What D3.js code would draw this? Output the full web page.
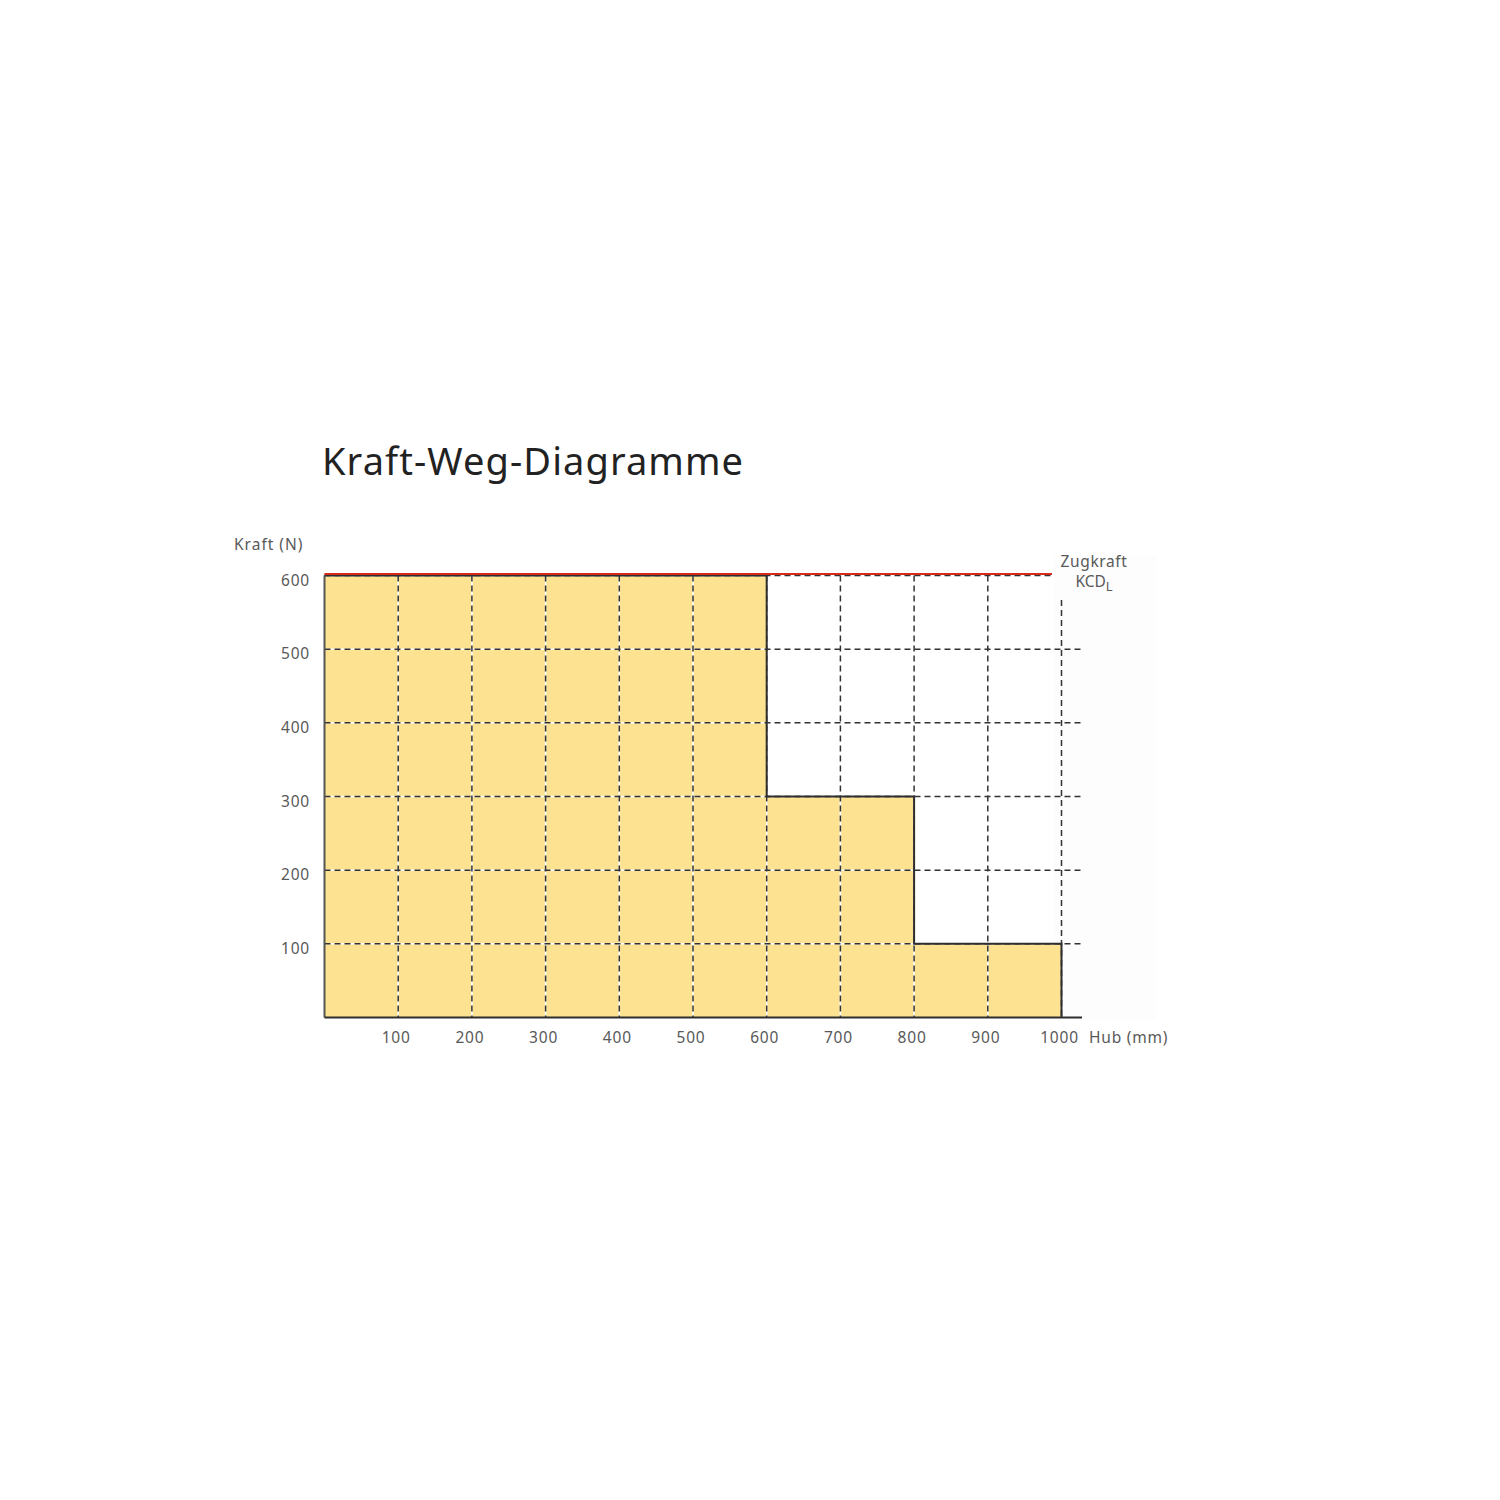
<!DOCTYPE html>
<html>
<head>
<meta charset="utf-8">
<script src="https://cdn.jsdelivr.net/npm/d3@7"></script>
<style>
    body { margin: 0; background: #fff; }
    text { font-family: "Noto Sans", "DejaVu Sans", sans-serif; }
</style>
</head>
<body>
<svg id="chart" width="1500" height="1500"></svg>
<script>
// Hub (mm) at which each force step starts / ends, and the force (N)
var stepStart = [0, 600, 800];
var stepEnd = [600, 800, 1000];
var stepForce = [600, 300, 100];

var xTicks = [100, 200, 300, 400, 500, 600, 700, 800, 900, 1000];
var yTicks = [100, 200, 300, 400, 500, 600];
var maxForce = 600; // Zugkraft KCD_L

var svg = d3.select('#chart');

var x = d3.scaleLinear().domain([0, 1000]).range([324.5, 1061.5]);
var y = d3.scaleLinear().domain([0, 600]).range([1017.5, 575.5]);
var gridRight = 1082;
var labelColor = '#595959';

svg.append('rect').attr('width', 1500).attr('height', 1500).attr('fill', '#fff');

// faint panel behind the label column
svg.append('rect')
    .attr('x', 1053).attr('y', 555).attr('width', 103).attr('height', 465)
    .attr('fill', '#fdfdfd');

svg.append('text')
    .attr('x', 322).attr('y', 475)
    .attr('font-size', 38)
    .attr('fill', '#222')
    .attr('textLength', 421)
    .attr('lengthAdjust', 'spacing')
    .text('Kraft-Weg-Diagramme');

// filled area under the force steps
var area = [];
stepStart.forEach(function(s, i) {
    area.push([stepStart[i], stepForce[i]]);
    area.push([stepEnd[i], stepForce[i]]);
});
var areaGen = d3.area()
    .x(function(d) { return x(d[0]); })
    .y0(y(0))
    .y1(function(d) { return y(d[1]); });
svg.append('path')
    .datum(area)
    .attr('d', areaGen)
    .attr('fill', '#fde291');

// grid: white underlay then dark dashes so gaps read white on the fill
function hLine(v) {
    var x2 = v === 600 ? x(990) : gridRight;
    return [x(0), y(v), x2, y(v)];
}
function vLine(v) {
    var y1 = v === 1000 ? 600 : y(600);
    return [x(v), y1, x(v), y(0)];
}
var gridLines = yTicks.map(hLine).concat(xTicks.map(vLine));

svg.append('g').selectAll('line')
    .data(gridLines)
    .join('line')
    .attr('x1', function(d) { return d[0]; })
    .attr('y1', function(d) { return d[1]; })
    .attr('x2', function(d) { return d[2]; })
    .attr('y2', function(d) { return d[3]; })
    .attr('stroke', '#fff')
    .attr('stroke-width', 1.5);

svg.append('g').selectAll('line')
    .data(gridLines)
    .join('line')
    .attr('x1', function(d) { return d[0]; })
    .attr('y1', function(d) { return d[1]; })
    .attr('x2', function(d) { return d[2]; })
    .attr('y2', function(d) { return d[3]; })
    .attr('stroke', '#333')
    .attr('stroke-width', 1.5)
    .attr('stroke-dasharray', '6,4');

// step outline
var outline = [];
stepStart.forEach(function(s, i) {
    outline.push([stepStart[i], stepForce[i]]);
    outline.push([stepEnd[i], stepForce[i]]);
});
outline.push([stepEnd[stepEnd.length - 1], 0]);
svg.append('path')
    .datum(outline)
    .attr('d', d3.line().x(function(d) { return x(d[0]); }).y(function(d) { return y(d[1]); }))
    .attr('fill', 'none')
    .attr('stroke', '#2e2e2e')
    .attr('stroke-width', 2);

// axes lines
svg.append('line')
    .attr('x1', x(0)).attr('y1', y(600)).attr('x2', x(0)).attr('y2', y(0))
    .attr('stroke', '#555').attr('stroke-width', 2);
svg.append('line')
    .attr('x1', x(0)).attr('y1', y(0)).attr('x2', gridRight).attr('y2', y(0))
    .attr('stroke', '#2e2e2e').attr('stroke-width', 2);

// max pull force line
svg.append('line')
    .attr('x1', x(0)).attr('y1', y(maxForce) - 1.5)
    .attr('x2', 1052).attr('y2', y(maxForce) - 1.5)
    .attr('stroke', '#d62a1e').attr('stroke-width', 2);

// tick labels
svg.append('g').selectAll('text')
    .data(xTicks)
    .join('text')
    .attr('x', function(d) { return x(d) - 2; })
    .attr('y', 1043)
    .attr('text-anchor', 'middle')
    .attr('font-size', 15.5)
    .attr('letter-spacing', 0.8)
    .attr('fill', labelColor)
    .text(function(d) { return d; });

svg.append('g').selectAll('text')
    .data(yTicks)
    .join('text')
    .attr('x', 310)
    .attr('y', function(d) { return y(d) + 10; })
    .attr('text-anchor', 'end')
    .attr('font-size', 15.5)
    .attr('letter-spacing', 0.8)
    .attr('fill', labelColor)
    .text(function(d) { return d; });

svg.append('text')
    .attr('x', 234).attr('y', 550)
    .attr('font-size', 15.5).attr('letter-spacing', 1).attr('fill', labelColor)
    .text('Kraft (N)');

svg.append('text')
    .attr('x', 1089).attr('y', 1043)
    .attr('font-size', 15.5).attr('letter-spacing', 0.8).attr('fill', labelColor)
    .text('Hub (mm)');

svg.append('text')
    .attr('x', 1094).attr('y', 567)
    .attr('text-anchor', 'middle')
    .attr('font-size', 15.5).attr('letter-spacing', 0.6).attr('fill', labelColor)
    .text('Zugkraft');

var kcd = svg.append('text')
    .attr('x', 1094).attr('y', 587)
    .attr('text-anchor', 'middle')
    .attr('font-size', 15.5).attr('fill', labelColor);
kcd.append('tspan').text('KCD');
kcd.append('tspan').attr('dy', 4).attr('font-size', 13).text('L');
</script>
</body>
</html>
